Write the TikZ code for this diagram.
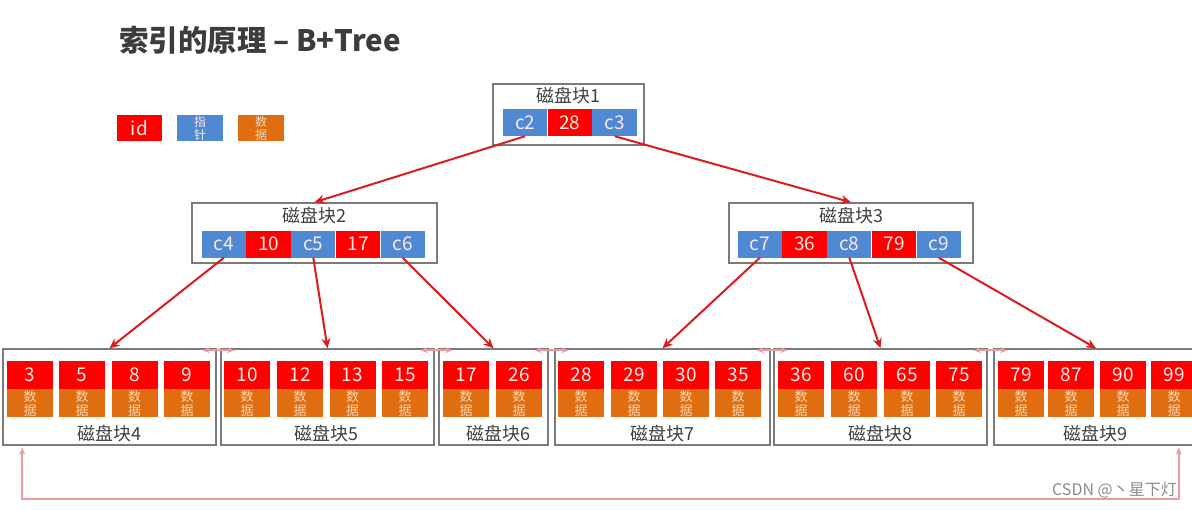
\documentclass[tikz,border=0pt]{standalone}
\usepackage{fontspec}
\setmainfont{Noto Sans CJK SC}
\usetikzlibrary{arrows.meta,positioning}

\definecolor{keyred}{HTML}{FF0000}
\definecolor{ptrblue}{HTML}{4F89D4}
\definecolor{dataorange}{HTML}{E06E10}
\definecolor{framegray}{HTML}{7A7A7A}
\definecolor{labelgray}{HTML}{404040}
\definecolor{titlegray}{HTML}{3C3C3C}
\definecolor{arrowred}{HTML}{DC1A1F}
\definecolor{linkpink}{HTML}{EE98A2}
\definecolor{celltext}{HTML}{FCE8E8}
\definecolor{datatext}{HTML}{F6D8B8}
\definecolor{markgray}{HTML}{8C8C8C}

\tikzset{
  blockbox/.style={draw=framegray, line width=1.5pt, inner sep=0pt},
  ptrcell/.style={fill=ptrblue, text=celltext, minimum width=44.3pt, minimum height=27pt,
    inner sep=0pt, font=\fontsize{19}{19}\selectfont},
  keycell/.style={ptrcell, fill=keyred},
  leafkey/.style={keycell, minimum width=46pt, minimum height=28pt},
  datacell/.style={fill=dataorange, text=datatext, minimum width=46pt, minimum height=28pt,
    inner sep=0pt, align=center, font=\fontsize{13}{14}\selectfont},
  blocklabel/.style={text=labelgray, inner sep=0pt, font=\fontsize{18}{18}\selectfont},
  treearrow/.style={draw=arrowred, line width=2pt, -{Stealth[length=10pt,width=9pt]}},
  linkarrow/.style={draw=linkpink, line width=1.8pt,
    {Stealth[length=7pt,width=6pt]}-{Stealth[length=7pt,width=6pt]}},
}

% one leaf entry: key on top, data below
\newcommand\leafcell[2]{%
  \node[leafkey] (k#2) at (#1,375) {#2};
  \node[datacell, below=0pt of k#2] (d#2) {数\\据};}

\begin{document}
\begin{tikzpicture}[x=1pt,y=-1pt]
\useasboundingbox[fill=white] (0,0) rectangle (1192,509);
\clip (0,0) rectangle (1192,509);

% title
\node[anchor=west, text=titlegray, inner sep=0pt, font=\fontsize{29.5}{30}\selectfont\bfseries]
  (title) at (119,40) {索引的原理 – B+Tree};

% legend
\node[keycell, minimum width=45pt, minimum height=26pt] (lgid) at (139.5,128) {id};
\node[ptrcell, minimum width=46pt, minimum height=26pt, align=center,
  font=\fontsize{12}{13}\selectfont] (lgptr) at (200,128) {指\\针};
\node[datacell, minimum height=26pt, font=\fontsize{12}{13}\selectfont] (lgdata) at (261,128) {数\\据};

% root block
\node[blockbox, minimum width=151pt, minimum height=61pt] (b1) at (568.5,114.5) {};
\node[blocklabel] (b1label) at (568.5,96) {磁盘块1};
\node[ptrcell] (c2) at (525.2,122.5) {c2};
\node[keycell, right=0pt of c2] (i28) {28};
\node[ptrcell, right=0pt of i28] (c3) {c3};

% second level
\node[blockbox, minimum width=245pt, minimum height=60pt] (b2) at (314.5,233) {};
\node[blocklabel] (b2label) at (314.5,216) {磁盘块2};
\node[ptrcell] (c4) at (223.9,244) {c4};
\node[keycell, right=0pt of c4] (i10) {10};
\node[ptrcell, right=0pt of i10] (c5) {c5};
\node[keycell, right=0pt of c5] (i17) {17};
\node[ptrcell, right=0pt of i17] (c6) {c6};

\node[blockbox, minimum width=244pt, minimum height=60pt] (b3) at (851,233) {};
\node[blocklabel] (b3label) at (851,216) {磁盘块3};
\node[ptrcell] (c7) at (759.9,244) {c7};
\node[keycell, right=0pt of c7] (i36) {36};
\node[ptrcell, right=0pt of i36] (c8) {c8};
\node[keycell, right=0pt of c8] (i79) {79};
\node[ptrcell, right=0pt of i79] (c9) {c9};

% leaf blocks
\node[blockbox, minimum width=213pt, minimum height=96pt] (l4) at (109.5,397) {};
\node[blockbox, minimum width=213pt, minimum height=96pt] (l5) at (327.5,397) {};
\node[blockbox, minimum width=109pt, minimum height=96pt] (l6) at (493.5,397) {};
\node[blockbox, minimum width=215pt, minimum height=96pt] (l7) at (662.5,397) {};
\node[blockbox, minimum width=213pt, minimum height=96pt] (l8) at (880.5,397) {};
\node[blockbox, minimum width=204pt, minimum height=96pt] (l9) at (1096,397) {};

\leafcell{30}{3} \leafcell{82}{5} \leafcell{134.5}{8} \leafcell{187}{9}
\leafcell{247}{10} \leafcell{300}{12} \leafcell{352.5}{13} \leafcell{405}{15}
\leafcell{466}{17} \leafcell{519}{26}
\leafcell{581}{28} \leafcell{634}{29} \leafcell{686}{30} \leafcell{738}{35}
\leafcell{801}{36} \leafcell{854}{60} \leafcell{907}{65} \leafcell{959}{75}
\leafcell{1021}{79} \leafcell{1071}{87} \leafcell{1123}{90} \leafcell{1174}{99}

\node[blocklabel] (l4label) at (109.5,434) {磁盘块4};
\node[blocklabel] (l5label) at (326,434) {磁盘块5};
\node[blocklabel] (l6label) at (498,434) {磁盘块6};
\node[blocklabel] (l7label) at (662.5,434) {磁盘块7};
\node[blocklabel] (l8label) at (880.5,434) {磁盘块8};
\node[blocklabel] (l9label) at (1095,434) {磁盘块9};

% pointers
\draw[treearrow] (c2.south) -- (b2.north);
\draw[treearrow] (c3.south) -- (b3.north);
\draw[treearrow] (c4.south) -- (l4.north);
\draw[treearrow] (c5.south) -- (l5.north);
\draw[treearrow] (c6.south) -- (l6.north);
\draw[treearrow] (c7.south) -- (l7.north);
\draw[treearrow] (c8.south) -- (l8.north);
\draw[treearrow] (c9.south) -- (l9.north);

% leaf links
\draw[linkarrow] ([shift={(-14,2)}]l4.north east) -- ([shift={(14,2)}]l5.north west);
\draw[linkarrow] ([shift={(-14,2)}]l5.north east) -- ([shift={(14,2)}]l6.north west);
\draw[linkarrow] ([shift={(-14,2)}]l6.north east) -- ([shift={(14,2)}]l7.north west);
\draw[linkarrow] ([shift={(-14,2)}]l7.north east) -- ([shift={(14,2)}]l8.north west);
\draw[linkarrow] ([shift={(-14,2)}]l8.north east) -- ([shift={(14,2)}]l9.north west);
\coordinate (loopl) at ([shift={(20,2)}]l4.south west);
\coordinate (loopr) at ([shift={(-20,2)}]l9.south east);
\draw[linkarrow] (loopl) -- (loopl |- 0,499) -- (loopr |- 0,499) -- (loopr);

% watermark
\node[anchor=east, text=markgray, inner sep=0pt, font=\fontsize{16}{16}\selectfont]
  (mark) at (1177,490) {CSDN @丶星下灯};
\end{tikzpicture}
\end{document}
